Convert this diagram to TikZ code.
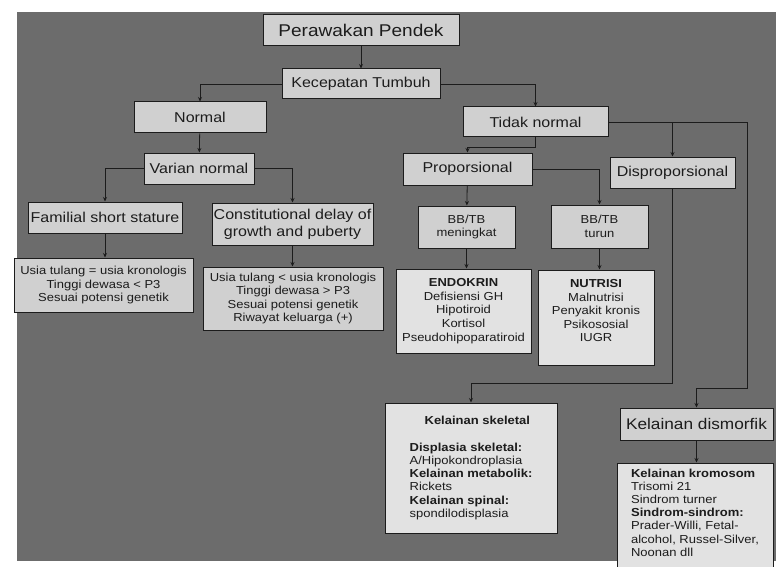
\documentclass[tikz,border=0pt]{standalone}
\usepackage{fontspec}
\setmainfont{Liberation Sans}[FakeStretch=1.12]
\usetikzlibrary{arrows.meta}

\definecolor{paper}{HTML}{6C6C6C}
\definecolor{boxfill}{HTML}{D0D0D0}
\definecolor{boxlight}{HTML}{E2E2E2}
\definecolor{ink}{HTML}{1C1C1C}

\tikzset{
  box/.style={draw=ink, line width=1pt, fill=boxfill, text=ink, inner sep=0pt, align=center},
  lightbox/.style={box, fill=boxlight},
  title/.style={font=\fontsize{17}{20}\selectfont},
  big/.style={font=\fontsize{14.3}{17}\selectfont},
  small/.style={font=\fontsize{11.6}{13.6}\selectfont},
  list/.style={font=\fontsize{11.6}{13.2}\selectfont, align=left},
  link/.style={draw=ink, line width=0.8pt, -{Stealth[length=4.5pt,width=4pt]}},
}

\begin{document}
\begin{tikzpicture}[x=1pt, y=-1pt]
  \clip (0,0) rectangle (776,567);
  \fill[white] (0,0) rectangle (776,567);
  \fill[paper] (17,12) rectangle (776,561);

  % top levels
  \node[box, title, minimum width=196, minimum height=31] (main) at (361,30.5) {Perawakan Pendek};
  \node[box, big, minimum width=158, minimum height=30] (kec) at (361,84) {Kecepatan Tumbuh};
  \node[box, big, minimum width=132, minimum height=31] (normal) at (200,117.5) {Normal};
  \node[box, big, minimum width=145, minimum height=30] (tidak) at (535.5,122) {Tidak normal};

  % normal branch
  \node[box, big, minimum width=110, minimum height=31] (varian) at (199,168.5) {Varian normal};
  \node[box, big, minimum width=154, minimum height=31] (fam) at (105,217.5) {Familial short stature};
  \node[box, big, minimum width=161, minimum height=42] (cdgp) at (292.5,224)
    {Constitutional delay of\\growth and puberty};
  \node[box, small, minimum width=179, minimum height=54] (faminfo) at (103.5,285)
    {Usia tulang = usia kronologis\\Tinggi dewasa < P3\\Sesuai potensi genetik};
  \node[box, small, minimum width=180, minimum height=63] (cdgpinfo) at (293,298.5)
    {Usia tulang < usia kronologis\\Tinggi dewasa > P3\\Sesuai potensi genetik\\Riwayat keluarga (+)};

  % abnormal branch
  \node[box, big, minimum width=129, minimum height=32] (prop) at (467.5,169) {Proporsional};
  \node[box, big, minimum width=125, minimum height=31] (disprop) at (672.5,172.5) {Disproporsional};
  \node[box, small, minimum width=97, minimum height=42] (bbup) at (466.5,227) {BB/TB\\meningkat};
  \node[box, small, minimum width=97, minimum height=43] (bbdown) at (599.5,226.5) {BB/TB\\turun};
  \node[lightbox, small, minimum width=135, minimum height=84] (endo) at (463.5,311)
    {\textbf{ENDOKRIN}\\Defisiensi GH\\Hipotiroid\\Kortisol\\Pseudohipoparatiroid};
  \node[lightbox, small, minimum width=116, minimum height=95] (nutri) at (596,317.5)
    {\textbf{NUTRISI}\\Malnutrisi\\Penyakit kronis\\Psikososial\\IUGR\\\mbox{}};
  \node[lightbox, list, minimum width=172, minimum height=130] (skel) at (471,468)
    {\hspace*{15pt}\textbf{Kelainan skeletal}\\[13.2pt]
     \textbf{Displasia skeletal:}\\A/Hipokondroplasia\\
     \textbf{Kelainan metabolik:}\\Rickets\\
     \textbf{Kelainan spinal:}\\spondilodisplasia};
  \node[box, font=\fontsize{15.4}{18}\selectfont, minimum width=153, minimum height=32] (dism) at (696.5,424)
    {Kelainan dismorfik};
  \node[lightbox, list, minimum width=156, minimum height=112] (krom) at (695,519)
    {\textbf{Kelainan kromosom}\\Trisomi 21\\Sindrom turner\\
     \textbf{Sindrom-sindrom:}\\Prader-Willi, Fetal-\\alcohol, Russel-Silver,\\Noonan dll\\\mbox{}};

  % bend point of the long connector on the right
  \coordinate (rbend) at (747,388);

  % connectors
  \draw[link] (main) -- (kec);
  \draw[link] (kec.west) -| (normal.north);
  \draw[link] (kec.east) -| (tidak.north);
  \draw[link] (normal) -- (varian);
  \draw[link] (varian.west) -| (fam.north);
  \draw[link] (varian.east) -| (cdgp.north);
  \draw[link] (fam.south) -- (fam.south |- faminfo.north);
  \draw[link] (cdgp.south) -- (cdgp.south |- cdgpinfo.north);

  \draw[link] (tidak.south) -- ++(0,10) -| (prop.north);
  \draw[link] (tidak.east) -| (disprop.north);
  \draw[link] (tidak.east) -| (rbend) -| (dism.north);
  \draw[link] (prop) -- (bbup);
  \draw[link] (prop.east) -| (bbdown.north);
  \draw[link] (bbup.south) -- (bbup.south |- endo.north);
  \draw[link] (bbdown.south) -- (bbdown.south |- nutri.north);
  \draw[link] (disprop.south) -- ++(0,195) -| (skel.north);
  \draw[link] (dism.south) -- (dism.south |- krom.north);
\end{tikzpicture}
\end{document}
